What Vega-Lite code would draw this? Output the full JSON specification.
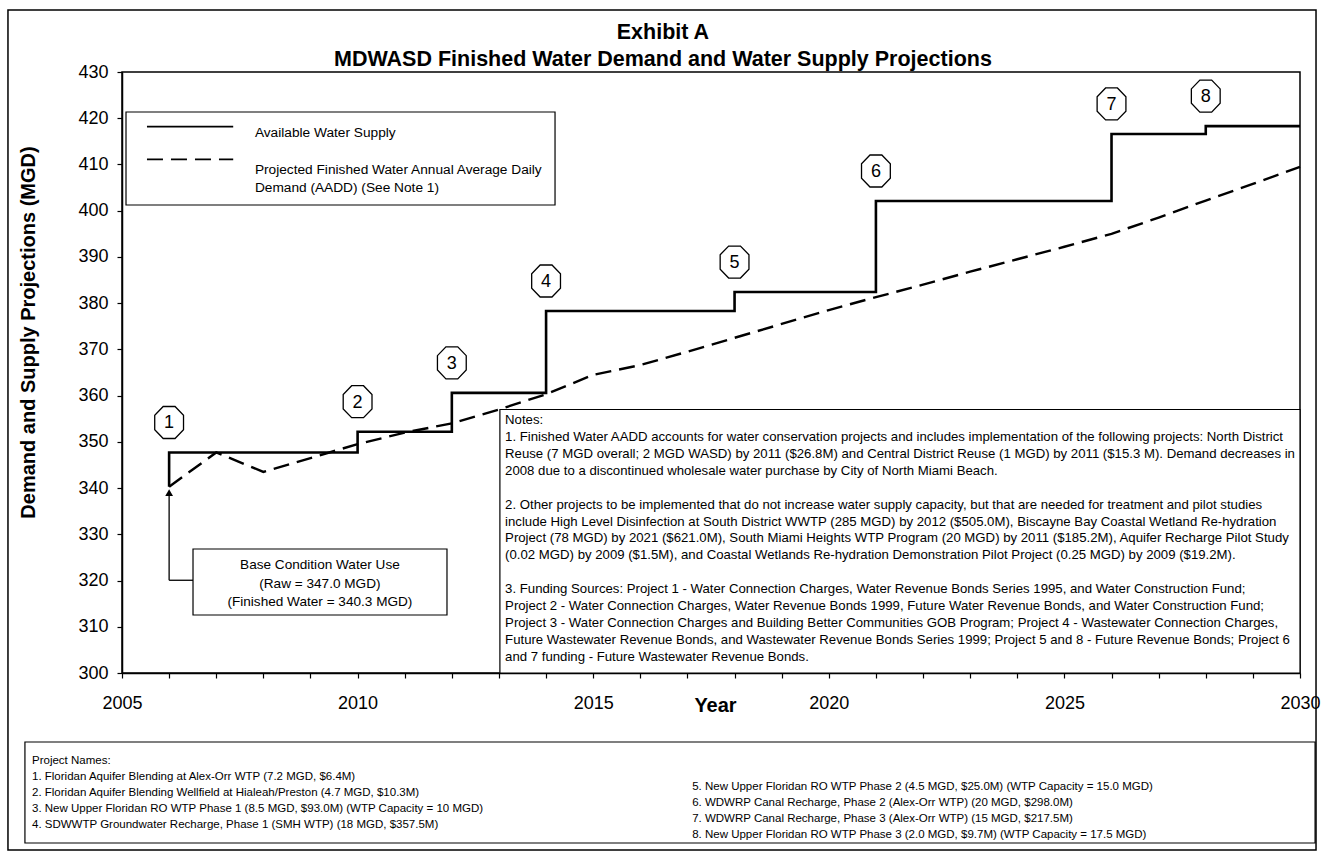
{
  "$schema": "https://vega.github.io/schema/vega-lite/v6.json",
  "width": 1178,
  "height": 601,
  "autosize": {"type": "none"},
  "padding": {"left": 122, "top": 72, "right": 21, "bottom": 183},
  "background": "white",
  "data": {"values": [{}]},
  "config": {
    "view": {"stroke": "black", "strokeWidth": 1.5},
    "font": "Liberation Sans",
    "text": {"font": "Liberation Sans", "color": "black"},
    "axis": {"grid": false, "domainColor": "black", "tickColor": "black", "labelColor": "black", "titleColor": "black", "labelFont": "Liberation Sans", "titleFont": "Liberation Sans", "domainWidth": 1.5, "tickWidth": 1.2}
  },
  "datasets": {
    "demand": [
      {"year": 2006, "demand": 340.3}, {"year": 2007, "demand": 347.7}, {"year": 2008, "demand": 343.5},
      {"year": 2009, "demand": 346.5}, {"year": 2010, "demand": 349.5}, {"year": 2011, "demand": 352.0},
      {"year": 2012, "demand": 354.0}, {"year": 2013, "demand": 357.0}, {"year": 2014, "demand": 360.3},
      {"year": 2015, "demand": 364.5}, {"year": 2016, "demand": 366.6}, {"year": 2017, "demand": 369.5},
      {"year": 2018, "demand": 372.5}, {"year": 2019, "demand": 375.5}, {"year": 2020, "demand": 378.5},
      {"year": 2021, "demand": 381.3}, {"year": 2022, "demand": 384.0}, {"year": 2023, "demand": 386.8},
      {"year": 2024, "demand": 389.5}, {"year": 2025, "demand": 392.2}, {"year": 2026, "demand": 395.0},
      {"year": 2027, "demand": 398.5}, {"year": 2028, "demand": 402.2}, {"year": 2029, "demand": 405.8},
      {"year": 2030, "demand": 409.5}
    ],
    "supply": [
      {"seq": 0, "year": 2006, "supply": 340.3},
      {"seq": 1, "year": 2006, "supply": 347.7, "project": "1"},
      {"seq": 2, "year": 2010, "supply": 352.2, "project": "2"},
      {"seq": 3, "year": 2012, "supply": 360.6, "project": "3"},
      {"seq": 4, "year": 2014, "supply": 378.3, "project": "4"},
      {"seq": 5, "year": 2018, "supply": 382.4, "project": "5"},
      {"seq": 6, "year": 2021, "supply": 402.1, "project": "6"},
      {"seq": 7, "year": 2026, "supply": 416.6, "project": "7"},
      {"seq": 8, "year": 2028, "supply": 418.3, "project": "8"},
      {"seq": 9, "year": 2030, "supply": 418.3}
    ]
  },
  "layer": [
    {
      "data": {"name": "demand"},
      "mark": {"type": "line", "color": "black", "strokeWidth": 2.4, "strokeDash": [16, 8]},
      "encoding": {
        "x": {
          "field": "year", "type": "quantitative",
          "scale": {"domain": [2005, 2030], "nice": false, "zero": false},
          "axis": {
            "values": [2005, 2006, 2007, 2008, 2009, 2010, 2011, 2012, 2013, 2014, 2015, 2016, 2017, 2018, 2019, 2020, 2021, 2022, 2023, 2024, 2025, 2026, 2027, 2028, 2029, 2030],
            "labelExpr": "datum.value % 5 === 0 ? format(datum.value, 'd') : ''",
            "labelOverlap": false, "labelFlush": false,
            "tickSize": 5, "labelFontSize": 18, "labelPadding": 16,
            "title": "Year", "titleFontSize": 20, "titleFontWeight": "bold",
            "titleX": 593, "titleY": 38, "titleBaseline": "alphabetic", "titleAlign": "center"
          }
        },
        "y": {
          "field": "demand", "type": "quantitative",
          "scale": {"domain": [300, 430], "nice": false, "zero": false},
          "axis": {
            "values": [300, 310, 320, 330, 340, 350, 360, 370, 380, 390, 400, 410, 420, 430],
            "format": "d", "tickSize": 5, "labelFontSize": 18, "labelPadding": 9,
            "title": "Demand and Supply Projections (MGD)", "titleFontSize": 20, "titleFontWeight": "bold",
            "titleX": -88, "titleY": 260, "titleBaseline": "alphabetic", "titleAlign": "center", "titleAngle": 270
          }
        }
      }
    },
    {
      "data": {"name": "supply"},
      "mark": {"type": "line", "color": "black", "strokeWidth": 2.6, "interpolate": "step-after"},
      "encoding": {
        "x": {"field": "year", "type": "quantitative"},
        "y": {"field": "supply", "type": "quantitative"},
        "order": {"field": "seq"}
      }
    },
    {
      "mark": {"type": "text", "align": "center", "baseline": "middle", "fontSize": 21.5, "fontWeight": "bold"},
      "encoding": {
        "x": {"datum": 2016.48, "type": "quantitative"},
        "y": {"datum": 438.44, "type": "quantitative"},
        "text": {"value": "Exhibit A"}
      }
    },
    {
      "mark": {"type": "text", "align": "center", "baseline": "middle", "fontSize": 21.5, "fontWeight": "bold"},
      "encoding": {
        "x": {"datum": 2016.48, "type": "quantitative"},
        "y": {"datum": 432.49, "type": "quantitative"},
        "text": {"value": "MDWASD Finished Water Demand and Water Supply Projections"}
      }
    },
    {
      "mark": {"type": "rect", "fill": null, "fillOpacity": 0, "stroke": "black", "strokeWidth": 1.5},
      "encoding": {
        "x": {"datum": 2002.58, "type": "quantitative"}, "x2": {"datum": 2030.34},
        "y": {"datum": 443.4, "type": "quantitative"}, "y2": {"datum": 261.7}
      }
    },
    {
      "mark": {"type": "rect", "fill": null, "fillOpacity": 0, "stroke": "black", "strokeWidth": 1.2},
      "encoding": {
        "x": {"datum": 2002.94, "type": "quantitative"}, "x2": {"datum": 2030.32},
        "y": {"datum": 285.08, "type": "quantitative"}, "y2": {"datum": 263.23}
      }
    },
    {
      "mark": {"type": "rect", "fill": "white", "stroke": "black", "strokeWidth": 1.2},
      "encoding": {
        "x": {"datum": 2005.085, "type": "quantitative"}, "x2": {"datum": 2014.19},
        "y": {"datum": 421.35, "type": "quantitative"}, "y2": {"datum": 401.23}
      }
    },
    {
      "mark": {"type": "rule", "color": "black", "strokeWidth": 1.8},
      "encoding": {
        "x": {"datum": 2005.53, "type": "quantitative"}, "x2": {"datum": 2007.36},
        "y": {"datum": 418.17, "type": "quantitative"}
      }
    },
    {
      "mark": {"type": "rule", "color": "black", "strokeWidth": 1.8, "strokeDash": [16, 8]},
      "encoding": {
        "x": {"datum": 2005.53, "type": "quantitative"}, "x2": {"datum": 2007.36},
        "y": {"datum": 411.12, "type": "quantitative"}
      }
    },
    {
      "mark": {"type": "text", "align": "left", "baseline": "middle", "fontSize": 13.7},
      "encoding": {
        "x": {"datum": 2007.82, "type": "quantitative"},
        "y": {"datum": 416.87, "type": "quantitative"},
        "text": {"value": "Available Water Supply"}
      }
    },
    {
      "mark": {"type": "text", "align": "left", "baseline": "middle", "fontSize": 13.7},
      "encoding": {
        "x": {"datum": 2007.82, "type": "quantitative"},
        "y": {"datum": 408.8, "type": "quantitative"},
        "text": {"value": "Projected Finished Water Annual Average Daily"}
      }
    },
    {
      "mark": {"type": "text", "align": "left", "baseline": "middle", "fontSize": 13.7},
      "encoding": {
        "x": {"datum": 2007.82, "type": "quantitative"},
        "y": {"datum": 404.97, "type": "quantitative"},
        "text": {"value": "Demand (AADD) (See Note 1)"}
      }
    },
    {
      "mark": {"type": "rect", "fill": "white", "stroke": "black", "strokeWidth": 1.2},
      "encoding": {
        "x": {"datum": 2013.02, "type": "quantitative"}, "x2": {"datum": 2030},
        "y": {"datum": 357.0, "type": "quantitative"}, "y2": {"datum": 300}
      }
    },
    {
      "mark": {"type": "text", "align": "left", "baseline": "top", "fontSize": 13.2, "lineHeight": 16.9, "lineBreak": "\n"},
      "encoding": {
        "x": {"datum": 2013.13, "type": "quantitative"},
        "y": {"datum": 356.0, "type": "quantitative"},
        "text": {"value": "Notes:\n1.  Finished Water AADD accounts for water conservation projects and includes implementation of the following projects:  North District\nReuse (7 MGD overall; 2 MGD WASD) by 2011 ($26.8M) and Central District Reuse (1 MGD) by 2011 ($15.3 M).  Demand decreases in\n2008 due to a  discontinued wholesale water purchase by City of North Miami Beach."}
      }
    },
    {
      "mark": {"type": "text", "align": "left", "baseline": "top", "fontSize": 13.2, "lineHeight": 16.9, "lineBreak": "\n"},
      "encoding": {
        "x": {"datum": 2013.13, "type": "quantitative"},
        "y": {"datum": 337.72, "type": "quantitative"},
        "text": {"value": "2.  Other projects to be implemented that do not increase water supply capacity, but that are needed for treatment and pilot studies\ninclude High Level Disinfection at South District WWTP (285 MGD) by 2012 ($505.0M), Biscayne Bay Coastal Wetland Re-hydration\nProject (78 MGD) by 2021 ($621.0M), South Miami Heights WTP Program (20 MGD) by 2011 ($185.2M), Aquifer Recharge Pilot Study\n(0.02 MGD) by 2009 ($1.5M), and Coastal Wetlands Re-hydration Demonstration Pilot Project (0.25 MGD) by 2009 ($19.2M)."}
      }
    },
    {
      "mark": {"type": "text", "align": "left", "baseline": "top", "fontSize": 13.2, "lineHeight": 16.9, "lineBreak": "\n"},
      "encoding": {
        "x": {"datum": 2013.13, "type": "quantitative"},
        "y": {"datum": 319.44, "type": "quantitative"},
        "text": {"value": "3.  Funding Sources:  Project 1  - Water Connection Charges, Water Revenue Bonds Series 1995, and Water Construction Fund;\nProject 2 - Water Connection Charges,  Water Revenue Bonds 1999, Future Water Revenue Bonds, and Water Construction Fund;\nProject 3 - Water Connection Charges and Building Better Communities GOB Program; Project 4 - Wastewater Connection Charges,\nFuture Wastewater Revenue Bonds, and Wastewater Revenue Bonds Series 1999; Project 5 and 8 - Future Revenue Bonds; Project 6\nand 7 funding - Future Wastewater Revenue Bonds."}
      }
    },
    {
      "mark": {"type": "rect", "fill": "white", "stroke": "black", "strokeWidth": 1.2},
      "encoding": {
        "x": {"datum": 2006.507, "type": "quantitative"}, "x2": {"datum": 2011.897},
        "y": {"datum": 326.82, "type": "quantitative"}, "y2": {"datum": 312.55}
      }
    },
    {
      "mark": {"type": "text", "align": "center", "baseline": "top", "fontSize": 13.6, "lineHeight": 18.5, "lineBreak": "\n"},
      "encoding": {
        "x": {"datum": 2009.2, "type": "quantitative"},
        "y": {"datum": 324.87, "type": "quantitative"},
        "text": {"value": "Base Condition Water Use\n(Raw = 347.0 MGD)\n(Finished Water = 340.3 MGD)"}
      }
    },
    {
      "mark": {"type": "rule", "color": "black", "strokeWidth": 1.3},
      "encoding": {
        "x": {"datum": 2006, "type": "quantitative"}, "x2": {"datum": 2006.507},
        "y": {"datum": 320.06, "type": "quantitative"}
      }
    },
    {
      "mark": {"type": "rule", "color": "black", "strokeWidth": 1.3},
      "encoding": {
        "x": {"datum": 2006, "type": "quantitative"},
        "y": {"datum": 320.06, "type": "quantitative"}, "y2": {"datum": 338.5}
      }
    },
    {
      "mark": {"type": "point", "shape": "triangle-up", "size": 60, "filled": true, "color": "black", "opacity": 1},
      "encoding": {
        "x": {"datum": 2006, "type": "quantitative"},
        "y": {"datum": 339.0, "type": "quantitative"}
      }
    },
    {
      "data": {"name": "supply"},
      "transform": [{"filter": "isValid(datum.project)"}],
      "mark": {"type": "point", "shape": "M-0.37,-1L0.37,-1L0.9,-0.45L0.9,0.45L0.37,1L-0.37,1L-0.9,0.45L-0.9,-0.45Z", "size": 1024, "filled": true, "fill": "white", "stroke": "black", "strokeWidth": 1.3, "opacity": 1, "yOffset": -30},
      "encoding": {
        "x": {"field": "year", "type": "quantitative"},
        "y": {"field": "supply", "type": "quantitative"}
      }
    },
    {
      "data": {"name": "supply"},
      "transform": [{"filter": "isValid(datum.project)"}],
      "mark": {"type": "text", "fontSize": 18, "baseline": "middle", "align": "center", "yOffset": -29},
      "encoding": {
        "x": {"field": "year", "type": "quantitative"},
        "y": {"field": "supply", "type": "quantitative"},
        "text": {"field": "project"}
      }
    },
    {
      "mark": {"type": "text", "align": "left", "baseline": "top", "fontSize": 11.5, "lineHeight": 16, "lineBreak": "\n"},
      "encoding": {
        "x": {"datum": 2003.09, "type": "quantitative"},
        "y": {"datum": 282.2, "type": "quantitative"},
        "text": {"value": "Project Names:\n1.  Floridan Aquifer Blending at Alex-Orr WTP (7.2 MGD, $6.4M)\n2.  Floridan Aquifer Blending Wellfield at Hialeah/Preston (4.7 MGD, $10.3M)\n3.  New Upper Floridan RO WTP Phase 1 (8.5 MGD, $93.0M) (WTP Capacity = 10 MGD)\n4.  SDWWTP Groundwater Recharge, Phase 1 (SMH WTP) (18 MGD, $357.5M)"}
      }
    },
    {
      "mark": {"type": "text", "align": "left", "baseline": "top", "fontSize": 11.5, "lineHeight": 16, "lineBreak": "\n"},
      "encoding": {
        "x": {"datum": 2017.1, "type": "quantitative"},
        "y": {"datum": 276.7, "type": "quantitative"},
        "text": {"value": "5. New Upper Floridan RO WTP Phase 2 (4.5 MGD, $25.0M) (WTP Capacity = 15.0 MGD)\n6.  WDWRP Canal Recharge, Phase 2 (Alex-Orr WTP) (20 MGD, $298.0M)\n7.  WDWRP Canal Recharge, Phase 3 (Alex-Orr WTP) (15 MGD, $217.5M)\n8.  New Upper Floridan RO WTP Phase 3 (2.0 MGD, $9.7M) (WTP Capacity = 17.5 MGD)"}
      }
    }
  ]
}
